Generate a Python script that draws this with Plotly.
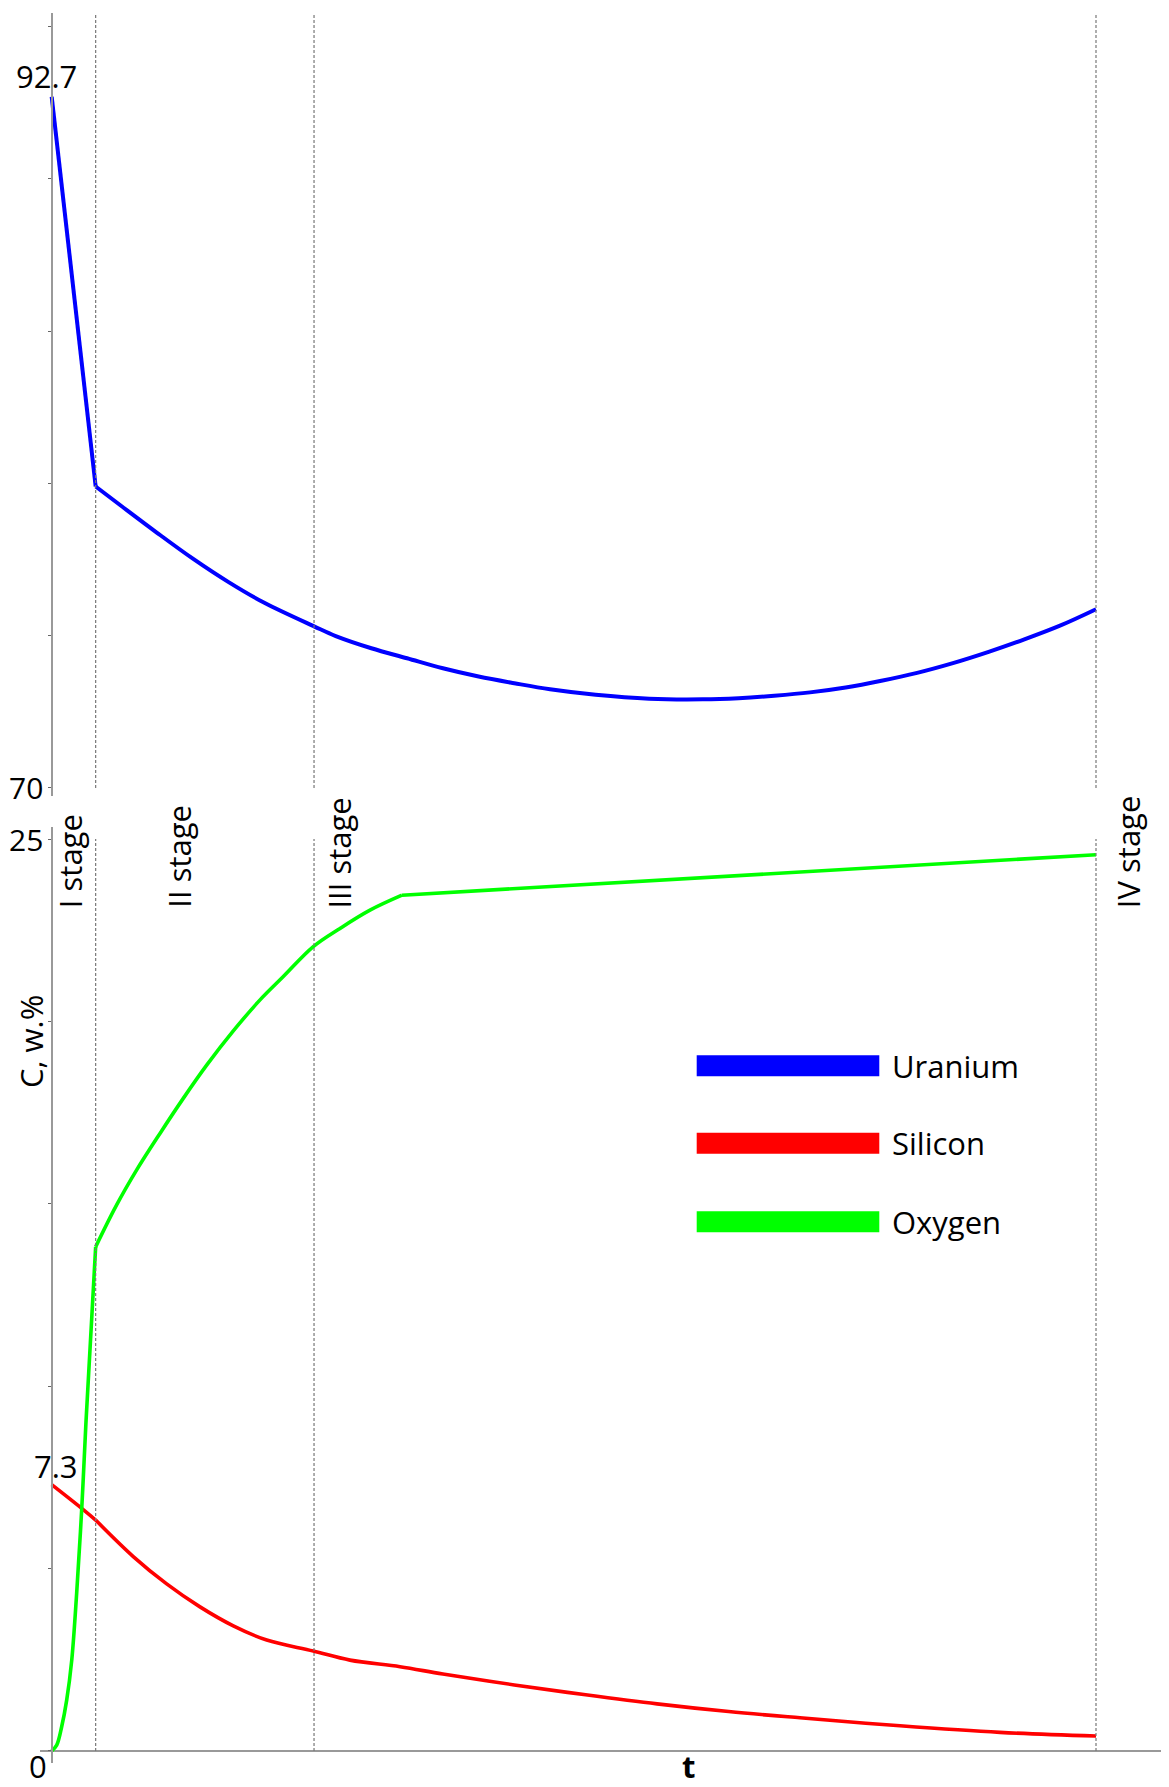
import plotly.graph_objects as go

# ---------------- data (t in arbitrary units, 0..100) ----------------
uranium_t = [0, 4.21, 6.67, 10.09, 13.52, 16.94, 20.36, 25.17, 27.2, 30.61, 34.03, 37.46,
             40.88, 44.30, 47.72, 52.09, 57.22, 62.36, 65.78, 69.19, 72.61, 76.03, 79.45,
             82.87, 86.30, 89.72, 93.14, 96.55, 100]
uranium_c = [92.7, 79.9, 79.26, 78.38, 77.53, 76.76, 76.08, 75.30, 74.99, 74.59, 74.26, 73.93,
             73.66, 73.44, 73.24, 73.06, 72.93, 72.91, 72.95, 73.03, 73.14, 73.30, 73.52,
             73.78, 74.10, 74.47, 74.88, 75.33, 75.87]
uranium_kinks = [1]

silicon_t = [0, 2.87, 4.21, 7.81, 11.01, 14.20, 17.39, 20.59, 25.05, 28.56, 33.35, 37.46,
             44.30, 51.13, 57.97, 64.82, 71.65, 81.23, 90.8, 100]
silicon_c = [7.3, 6.65, 6.33, 5.33, 4.58, 3.95, 3.43, 3.04, 2.74, 2.49, 2.31, 2.11,
             1.81, 1.54, 1.29, 1.08, 0.91, 0.69, 0.51, 0.41]
silicon_kinks = [2]

oxygen_t = [0, 0.48, 0.96, 1.44, 1.92, 2.39, 2.87, 3.28, 4.21, 6.22, 8.14, 10.37, 12.60,
            14.84, 17.39, 19.95, 22.18, 25.05, 27.61, 30.48, 33.54, 100]
oxygen_c = [0, 0.16, 0.67, 1.40, 2.49, 4.32, 6.61, 9.0, 13.82, 14.97, 15.93, 16.93, 17.89,
            18.80, 19.74, 20.59, 21.23, 22.05, 22.55, 23.05, 23.46, 24.57]
oxygen_kinks = [8, 20]

stage_bounds = [4.21, 25.12, 100]
stage_labels = ["I stage", "II stage", "III stage", "IV stage"]
stage_label_t = [1.75, 12.19, 27.5, 103.06]

series_names = ["Uranium", "Silicon", "Oxygen"]
series_colors = ["#0000ff", "#ff0000", "#00ff00"]

top_ticks = [70, 75, 80, 85, 90, 95]
bot_ticks = [0, 5, 10, 15, 20, 25]
top_label_value = 70
bot_label_value = 25

# ---------------- layout geometry ----------------
# the page body has an 8px default margin; target pixel positions are in
# window coordinates and shifted by OFF into figure coordinates.
OFF = 8
W, H = 1169 - OFF, 1787 - OFF
PLOT_L, PLOT_R, PLOT_T, PLOT_B = 40, 1169, 13, 1763   # window px
ML, MR, MT, MB = PLOT_L - OFF, W - (PLOT_R - OFF), PLOT_T - OFF, H - (PLOT_B - OFF)
PW, PH = W - ML - MR, H - MT - MB
FONT = "Open Sans"
FS = 31


def py(px):  # window pixel row -> paper y
    return (PLOT_B - px) / PH


def pxx(px):  # window pixel col -> paper x
    return (px - PLOT_L) / PW


top_range = [69.75, 95.45]
bot_range = [-0.33, 25.33]
x_range = [-1.12, 106.99]
axis_pos = pxx(51.7)

fig = go.Figure()


def add_series(ts, cs, kinks, color, width, xa, ya, name):
    cuts = [0] + kinks + [len(ts) - 1]
    for i in range(len(cuts) - 1):
        a, b = cuts[i], cuts[i + 1]
        seg_t, seg_c = ts[a:b + 1], cs[a:b + 1]
        fig.add_trace(go.Scatter(
            x=seg_t, y=seg_c, mode="lines", name=name, showlegend=False,
            line=dict(color=color, width=width,
                      shape="spline" if len(seg_t) > 2 else "linear", smoothing=1.0),
            xaxis=xa, yaxis=ya, hoverinfo="x+y+name"))


add_series(uranium_t, uranium_c, uranium_kinks, series_colors[0], 4, "x", "y", series_names[0])
add_series(silicon_t, silicon_c, silicon_kinks, series_colors[1], 3.6, "x2", "y2", series_names[1])
add_series(oxygen_t, oxygen_c, oxygen_kinks, series_colors[2], 3.6, "x2", "y2", series_names[2])

shapes = []
for b in stage_bounds:
    shapes.append(dict(type="line", xref="x", yref="y", x0=b, x1=b, y0=70, y1=top_range[1],
                       line=dict(color="#777777", width=1.2, dash="3px,2px")))
    shapes.append(dict(type="line", xref="x2", yref="y2", x0=b, x1=b, y0=0, y1=25,
                       line=dict(color="#777777", width=1.2, dash="3px,2px")))

# manual legend (long colour bars + labels)
leg_rows = [1065.7, 1143.3, 1221.7]
annotations = []
for name, col, row in zip(series_names, series_colors, leg_rows):
    shapes.append(dict(type="rect", xref="paper", yref="paper",
                       x0=pxx(696.7), x1=pxx(879.3), y0=py(row + 10.5), y1=py(row - 10.5),
                       fillcolor=col, line=dict(width=0)))
    annotations.append(dict(xref="paper", yref="paper", x=pxx(890), y=py(row), text=name,
                            showarrow=False, xanchor="left", yanchor="middle",
                            font=dict(family=FONT, size=FS, color="black")))

for lab, t in zip(stage_labels, stage_label_t):
    annotations.append(dict(xref="x2", yref="y2", x=t, y=23.05, text=lab, textangle=-90,
                            showarrow=False, xanchor="center", yanchor="bottom",
                            font=dict(family=FONT, size=FS, color="black")))

annotations += [
    dict(xref="x", yref="y", x=uranium_t[0], y=uranium_c[0], text=f"{uranium_c[0]}",
         showarrow=False, xanchor="center", yanchor="bottom", xshift=-5, yshift=-2,
         font=dict(family=FONT, size=FS, color="black")),
    dict(xref="x2", yref="y2", x=silicon_t[0], y=silicon_c[0], text=f"{silicon_c[0]}",
         showarrow=False, xanchor="center", yanchor="bottom", xshift=4, yshift=-4,
         font=dict(family=FONT, size=FS, color="black")),
    dict(xref="x2", yref="y2", x=0, y=0, text="0", borderpad=0,
         showarrow=False, xanchor="right", yanchor="top", xshift=-4, yshift=7,
         font=dict(family=FONT, size=FS, color="black")),
    dict(xref="x", yref="y", x=0, y=top_label_value, text=str(top_label_value),
         showarrow=False, xanchor="right", yanchor="middle", xshift=-7,
         font=dict(family=FONT, size=30, color="black")),
    dict(xref="x2", yref="y2", x=0, y=bot_label_value, text=str(bot_label_value),
         showarrow=False, xanchor="right", yanchor="middle", xshift=-7,
         font=dict(family=FONT, size=30, color="black")),
    dict(xref="paper", yref="paper", x=pxx(31), y=py(1042), text="C, w.%", textangle=-90,
         showarrow=False, xanchor="center", yanchor="middle",
         font=dict(family=FONT, size=FS, color="black")),
    dict(xref="paper", yref="paper", x=pxx(688), y=py(1766), text="<b>t</b>", borderpad=0,
         showarrow=False, xanchor="center", yanchor="middle",
         font=dict(family=FONT, size=FS, color="black")),
]

yax_common = dict(anchor="free", position=axis_pos, showline=True, linecolor="#999999",
                  linewidth=1.5, ticks="outside", ticklen=3, tickcolor="#666666",
                  showgrid=False, zeroline=False, automargin=False, showticklabels=False)

fig.update_layout(
    width=W, height=H,
    margin=dict(l=ML, r=MR, t=MT, b=MB, autoexpand=False),
    paper_bgcolor="white", plot_bgcolor="white",
    showlegend=False,
    xaxis=dict(domain=[0, 1], range=x_range, anchor="y", showline=False, showgrid=False,
               zeroline=False, showticklabels=False, ticks=""),
    xaxis2=dict(domain=[0, 1], range=x_range, anchor="y2", matches="x", showline=False,
                showgrid=False, zeroline=False, showticklabels=False, ticks=""),
    yaxis=dict(domain=[py(795.6), 1], range=top_range, tickmode="array",
               tickvals=top_ticks, **yax_common),
    yaxis2=dict(domain=[0, py(827)], range=bot_range, tickmode="array",
                tickvals=bot_ticks, **{**yax_common, "zeroline": True,
                                       "zerolinecolor": "#999999", "zerolinewidth": 1.5}),
    shapes=shapes,
    annotations=annotations,
)

fig.write_html("out.html")
